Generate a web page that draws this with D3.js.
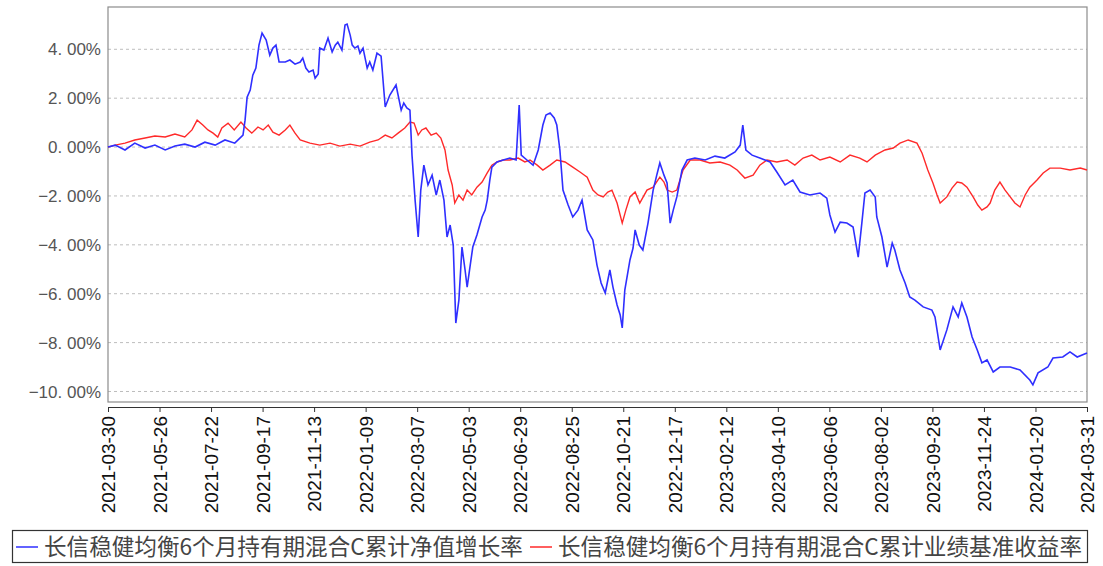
<!DOCTYPE html>
<html><head><meta charset="utf-8">
<script src="https://cdn.jsdelivr.net/npm/d3@7"></script>
<style>
html,body{margin:0;padding:0;background:#fff;}
svg{display:block;}
</style></head>
<body>
<svg id="chart" width="1103" height="566"></svg>
<script>
// ---- data ----
const tickLabels = ["2021-03-30","2021-05-26","2021-07-22","2021-09-17","2021-11-13","2022-01-09","2022-03-07","2022-05-03","2022-06-29","2022-08-25","2022-10-21","2022-12-17","2023-02-12","2023-04-10","2023-06-06","2023-08-02","2023-09-28","2023-11-24","2024-01-20","2024-03-31"];
const yTicks = [4,2,0,-2,-4,-6,-8,-10];
const seriesNames = ["长信稳健均衡6个月持有期混合C累计净值增长率","长信稳健均衡6个月持有期混合C累计业绩基准收益率"];
// position along the axis in tick intervals, value in %
const navPos = [0,.14,.33,.52,.72,.91,1.11,1.30,1.49,1.69,1.88,2.08,2.27,2.46,2.62,2.66,2.70,2.76,2.81,2.87,2.93,2.99,3.07,3.14,3.20,3.26,3.32,3.44,3.53,3.63,3.73,3.78,3.84,3.90,3.98,4.02,4.08,4.11,4.19,4.27,4.35,4.41,4.46,4.54,4.60,4.64,4.70,4.74,4.79,4.85,4.89,4.95,5.03,5.08,5.14,5.22,5.30,5.38,5.47,5.59,5.69,5.74,5.80,5.86,5.90,5.96,6.02,6.07,6.13,6.21,6.29,6.37,6.44,6.52,6.58,6.64,6.70,6.75,6.81,6.87,6.93,6.97,7.03,7.08,7.16,7.26,7.32,7.36,7.41,7.45,7.55,7.67,7.80,7.92,7.98,8.02,8.13,8.25,8.35,8.44,8.50,8.58,8.66,8.71,8.77,8.83,8.93,9.02,9.12,9.20,9.30,9.41,9.49,9.57,9.65,9.74,9.80,9.88,9.94,9.98,10.03,10.13,10.19,10.23,10.31,10.38,10.48,10.58,10.65,10.71,10.79,10.85,10.91,10.97,11.04,11.14,11.24,11.39,11.59,11.78,11.97,12.17,12.27,12.32,12.38,12.50,12.65,12.85,12.98,13.14,13.29,13.43,13.62,13.82,13.95,14.01,14.11,14.21,14.34,14.46,14.56,14.63,14.69,14.79,14.89,14.92,15.02,15.12,15.22,15.27,15.37,15.47,15.56,15.66,15.82,15.99,16.05,16.15,16.28,16.40,16.50,16.57,16.67,16.77,16.87,16.96,17.06,17.18,17.31,17.51,17.70,17.89,17.95,18.05,18.24,18.34,18.53,18.67,18.81,19];
const navVal = [0,.08,-.12,.16,-.04,.08,-.12,.04,.12,0,.20,.08,.29,.16,.49,1.10,2.04,2.33,2.94,3.23,4.17,4.66,4.38,3.76,4.05,4.17,3.48,3.48,3.56,3.39,3.48,3.64,3.23,3.07,3.15,2.82,2.99,4.05,3.97,4.46,3.89,4.17,4.29,3.97,4.99,5.03,4.58,4.17,4.05,4.13,3.84,4.05,3.23,3.48,3.15,3.84,3.72,1.64,2.13,2.54,1.51,1.80,1.60,1.51,-.33,-2.17,-3.68,-1.76,-.74,-1.55,-1.15,-1.96,-1.35,-2.17,-3.68,-3.19,-4.01,-7.20,-6.26,-4.09,-5.03,-5.73,-4.83,-4.09,-3.60,-2.86,-2.58,-2.17,-1.35,-.82,-.61,-.53,-.45,-.53,1.72,-.33,-.53,-.74,-.12,.90,1.31,1.39,1.19,.90,-.12,-1.76,-2.37,-2.86,-2.58,-2.17,-3.39,-3.80,-4.83,-5.56,-5.97,-5.03,-5.73,-6.46,-6.87,-7.40,-5.85,-4.62,-4.13,-3.39,-4.01,-4.21,-3.11,-1.76,-1.15,-.65,-1.15,-1.47,-3.11,-2.58,-2.04,-.94,-.53,-.45,-.53,-.37,-.45,-.20,.08,.90,-.12,-.33,-.45,-.61,-1.02,-1.55,-1.35,-1.84,-1.96,-1.88,-2.09,-2.78,-3.48,-3.07,-3.11,-3.27,-4.50,-3.11,-1.88,-1.76,-2.04,-2.86,-3.68,-4.91,-3.93,-4.21,-5.03,-5.56,-6.13,-6.26,-6.54,-6.67,-6.95,-8.30,-7.48,-6.54,-6.95,-6.38,-6.95,-7.77,-8.30,-8.83,-8.71,-9.20,-9.00,-9.00,-9.12,-9.53,-9.73,-9.24,-9.00,-8.63,-8.59,-8.38,-8.59,-8.43];
const bmPos = [0,.14,.33,.52,.72,.91,1.11,1.30,1.49,1.63,1.73,1.84,1.94,2.04,2.13,2.21,2.33,2.45,2.58,2.68,2.79,2.91,3.01,3.11,3.20,3.32,3.44,3.53,3.63,3.73,3.92,4.11,4.31,4.50,4.70,4.89,5.08,5.24,5.38,5.51,5.63,5.76,5.86,5.94,6.02,6.09,6.17,6.27,6.37,6.46,6.54,6.60,6.68,6.73,6.81,6.89,6.97,7.06,7.16,7.26,7.36,7.45,7.55,7.67,7.80,7.96,8.09,8.19,8.33,8.44,8.58,8.71,8.87,9.02,9.16,9.30,9.41,9.51,9.61,9.70,9.78,9.88,9.98,10.05,10.13,10.23,10.32,10.46,10.58,10.71,10.79,10.85,10.95,11.04,11.16,11.30,11.49,11.68,11.88,12.07,12.21,12.36,12.52,12.65,12.79,12.98,13.18,13.33,13.49,13.66,13.82,14.01,14.21,14.40,14.59,14.73,14.89,15.08,15.24,15.37,15.53,15.70,15.80,15.91,16.01,16.09,16.15,16.28,16.38,16.48,16.57,16.67,16.79,16.88,16.96,17.06,17.12,17.21,17.31,17.41,17.51,17.60,17.70,17.80,17.89,18.03,18.15,18.28,18.48,18.67,18.87,19];
const bmVal = [0,.08,.16,.29,.37,.45,.41,.53,.41,.70,1.10,.90,.70,.57,.41,.78,.98,.70,1.02,.78,.57,.82,.70,.90,.61,.49,.70,.90,.57,.29,.16,.08,.16,.04,.12,.04,.20,.29,.49,.37,.57,.78,1.02,.98,.49,.70,.78,.49,.57,.37,-.12,-.94,-1.55,-2.29,-1.96,-2.17,-1.76,-1.96,-1.64,-1.43,-1.06,-.74,-.61,-.53,-.53,-.45,-.61,-.53,-.74,-.94,-.74,-.53,-.61,-.82,-1.02,-1.23,-1.76,-1.96,-2.04,-1.84,-1.76,-2.29,-3.11,-2.58,-2.04,-1.84,-2.29,-1.76,-1.64,-1.23,-1.43,-1.76,-1.84,-1.76,-.94,-.53,-.53,-.65,-.61,-.74,-.94,-1.27,-1.15,-.74,-.53,-.61,-.53,-.74,-.45,-.33,-.53,-.41,-.61,-.33,-.45,-.61,-.33,-.12,-.04,.16,.29,.16,-.25,-.94,-1.47,-1.96,-2.29,-2.04,-1.68,-1.43,-1.47,-1.64,-2.04,-2.37,-2.58,-2.45,-2.29,-1.76,-1.43,-1.76,-2.04,-2.29,-2.45,-1.96,-1.64,-1.35,-1.06,-.86,-.86,-.94,-.86,-.94];

// ---- layout ----
const svg = d3.select("#chart");
const L = 108, R = 1087, T = 7, B = 402;
const x = d3.scaleLinear().domain([0, tickLabels.length - 1]).range([L, R]);
const y = d3.scaleLinear().domain([-10.43, 5.73]).range([B, T]);

// grid
svg.append("g").selectAll("line").data(yTicks).join("line")
  .attr("x1", L).attr("x2", R)
  .attr("y1", d => y(d)).attr("y2", d => y(d))
  .attr("stroke", "#bdbdbd").attr("stroke-width", 1).attr("stroke-dasharray", "3,3");

// frame
svg.append("rect").attr("x", L).attr("y", T).attr("width", R - L).attr("height", B - T)
  .attr("fill", "none").attr("stroke", "#8c8c8c").attr("stroke-width", 1.2);

// y labels
const fmt = d => d3.format(".2f")(d).replace("-", "\u2212").replace(".", ". ") + "%";
svg.append("g").selectAll("text").data(yTicks).join("text")
  .attr("x", 101).attr("y", d => y(d)).attr("dy", "0.36em")
  .attr("text-anchor", "end")
  .attr("font-family", "Liberation Sans, Arial, sans-serif").attr("font-size", 17)
  .attr("fill", "#555")
  .text(fmt);

// x axis
const xAxis = d3.axisBottom(x)
  .tickValues(d3.range(tickLabels.length))
  .tickFormat(i => tickLabels[i])
  .tickSize(5).tickSizeOuter(0);
const gx = svg.append("g").attr("transform", `translate(0,${B + 5})`).call(xAxis);
gx.select(".domain").attr("stroke", "#333");
gx.selectAll(".tick line").attr("stroke", "#333");
gx.selectAll(".tick text")
  .attr("font-family", "Liberation Sans, Arial, sans-serif").attr("font-size", 19)
  .attr("fill", "#111")
  .attr("transform", "rotate(-90)")
  .attr("text-anchor", "end")
  .attr("x", -9).attr("y", 0).attr("dy", "0.35em");

// lines
const line = d3.line().x(d => x(d[0])).y(d => y(d[1]));
const bm = bmPos.map((p, i) => [p, bmVal[i]]);
const nav = navPos.map((p, i) => [p, navVal[i]]);
svg.append("path").datum(bm).attr("d", line)
  .attr("fill", "none").attr("stroke", "#ff2a2a").attr("stroke-width", 1.4);
svg.append("path").datum(nav).attr("d", line)
  .attr("fill", "none").attr("stroke", "#2f2fff").attr("stroke-width", 1.6);

// legend
const colors = ["#2f2fff", "#ff2a2a"];
const lg = svg.append("g");
lg.append("rect").attr("x", 12.5).attr("y", 530.5).attr("width", 1075).attr("height", 32)
  .attr("fill", "#fff").attr("stroke", "#333").attr("stroke-width", 1.2);
const itemX = [16, 530];
seriesNames.forEach((n, i) => {
  lg.append("line").attr("x1", itemX[i]).attr("x2", itemX[i] + 22).attr("y1", 547).attr("y2", 547)
    .attr("stroke", colors[i]).attr("stroke-width", 1.5);
  lg.append("text").attr("x", itemX[i] + 28).attr("y", 547).attr("dy", "0.36em")
    .attr("font-family", "Noto Sans CJK SC, sans-serif").attr("font-size", 22.6)
    .attr("fill", "#444").text(n);
});
</script>
</body></html>
